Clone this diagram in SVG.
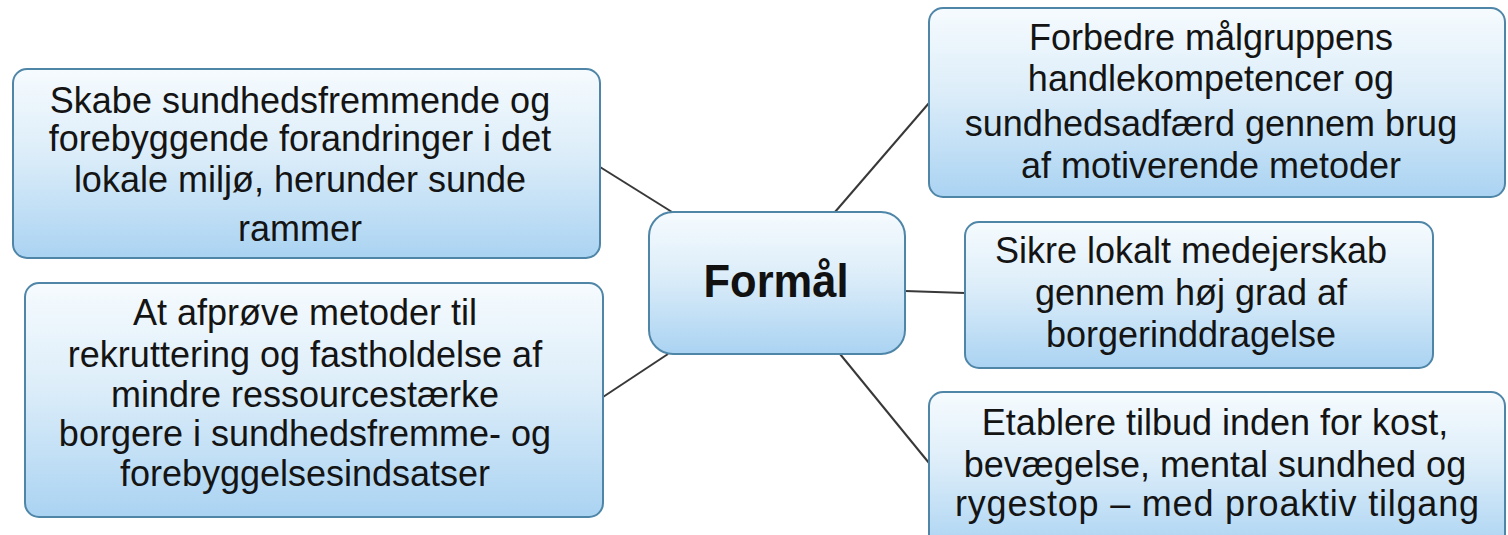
<svg xmlns="http://www.w3.org/2000/svg" width="1508" height="535" viewBox="0 0 1508 535">
  <defs>
    <linearGradient id="g" x1="0" y1="0" x2="0" y2="1">
      <stop offset="0" stop-color="#f6fbfe"/>
      <stop offset="0.45" stop-color="#dcedf9"/>
      <stop offset="1" stop-color="#aad3f2"/>
    </linearGradient>
  </defs>
  <style>
    .box { fill: url(#g); stroke: #4f86a8; stroke-width: 2; }
    .t { font-family: "Liberation Sans", Arial, sans-serif; font-size: 36px; fill: #141414; text-anchor: middle; }
    .c { font-family: "Liberation Sans", Arial, sans-serif; font-size: 46px; font-weight: bold; fill: #111; text-anchor: middle; }
    .con { stroke: #383838; stroke-width: 2; fill: none; }
  </style>
  <rect width="1508" height="535" fill="#ffffff"/>
  <g id="connectors">
    <line class="con" x1="600" y1="167" x2="672" y2="212"/>
    <line class="con" x1="603" y1="397" x2="668" y2="354"/>
    <line class="con" x1="835" y1="212" x2="929" y2="103"/>
    <line class="con" x1="905" y1="291" x2="965" y2="293"/>
    <line class="con" x1="840" y1="354" x2="929" y2="463"/>
  </g>
  <g id="node-center">
    <rect class="box" x="649" y="212" width="256" height="142" rx="24"/>
    <text class="c" x="776" y="297" textLength="145" lengthAdjust="spacingAndGlyphs">Formål</text>
  </g>
  <g id="node-left-top">
    <rect class="box" x="13" y="69" width="587" height="189" rx="14"/>
    <text class="t" x="300" y="113">Skabe sundhedsfremmende og</text>
    <text class="t" x="300" y="151">forebyggende forandringer i det</text>
    <text class="t" x="300" y="192">lokale miljø, herunder sunde</text>
    <text class="t" x="300" y="241">rammer</text>
  </g>
  <g id="node-left-bottom">
    <rect class="box" x="25" y="283" width="578" height="234" rx="14"/>
    <text class="t" x="305" y="325">At afprøve metoder til</text>
    <text class="t" x="305" y="367">rekruttering og fastholdelse af</text>
    <text class="t" x="305" y="407">mindre ressourcestærke</text>
    <text class="t" x="305" y="446">borgere i sundhedsfremme- og</text>
    <text class="t" x="305" y="486">forebyggelsesindsatser</text>
  </g>
  <g id="node-right-top">
    <rect class="box" x="929" y="8" width="576" height="189" rx="14"/>
    <text class="t" x="1211" y="50">Forbedre målgruppens</text>
    <text class="t" x="1211" y="91">handlekompetencer og</text>
    <text class="t" x="1211" y="136">sundhedsadfærd gennem brug</text>
    <text class="t" x="1211" y="178">af motiverende metoder</text>
  </g>
  <g id="node-right-middle">
    <rect class="box" x="965" y="222" width="468" height="146" rx="14"/>
    <text class="t" x="1191" y="263">Sikre lokalt medejerskab</text>
    <text class="t" x="1191" y="305">gennem høj grad af</text>
    <text class="t" x="1191" y="347">borgerinddragelse</text>
  </g>
  <g id="node-right-bottom">
    <rect class="box" x="929" y="392" width="576" height="160" rx="14"/>
    <text class="t" x="1215" y="435">Etablere tilbud inden for kost,</text>
    <text class="t" x="1215" y="477">bevægelse, mental sundhed og</text>
    <text class="t" x="1217" y="516" textLength="524" lengthAdjust="spacing">rygestop – med proaktiv tilgang</text>
  </g>
</svg>
